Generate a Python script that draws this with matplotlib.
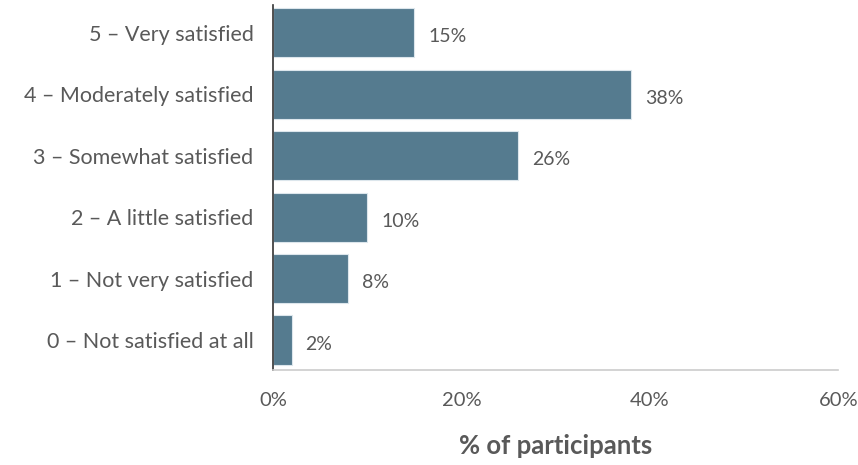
import matplotlib
matplotlib.use("Agg")
import matplotlib.pyplot as plt

categories = [
    "0 – Not satisfied at all",
    "1 – Not very satisfied",
    "2 – A little satisfied",
    "3 – Somewhat satisfied",
    "4 – Moderately satisfied",
    "5 – Very satisfied",
]
percent = [2, 8, 10, 26, 38, 15]
x_ticks = [0, 20, 40, 60]

plt.rcParams["font.family"] = ["Lato", "DejaVu Sans"]
text_color = "#595959"
bar_color = "#557b8f"

fig = plt.figure(figsize=(8.58, 4.65), dpi=100)
ax = fig.add_axes([0.318, 0.204, 0.659, 0.785])

y = list(range(len(categories)))
ax.barh(y, percent, height=0.8, color=bar_color, edgecolor="#dce6ec", linewidth=0.8)

for yi, v in zip(y, percent):
    ax.annotate(f"{v}%", xy=(v, yi), xytext=(10, -3), textcoords="offset points",
                ha="left", va="center", fontsize=14, color=text_color)

ax.set_xlim(0, 60)
ax.set_ylim(-0.49, 5.45)
ax.set_yticks(y)
ax.set_yticklabels(categories, fontsize=15.5, color=text_color)
ax.set_xticks(x_ticks)
ax.set_xticklabels([f"{t}%" for t in x_ticks], fontsize=14.5, color=text_color)
ax.tick_params(axis="both", length=0)
ax.tick_params(axis="y", pad=14)
ax.tick_params(axis="x", pad=16)

for side in ("top", "right"):
    ax.spines[side].set_visible(False)
ax.spines["left"].set_color("#333333")
ax.spines["left"].set_linewidth(1.2)
ax.spines["bottom"].set_color("#cccccc")
ax.spines["bottom"].set_linewidth(1.2)

ax.set_xlabel("% of participants", fontsize=18.5, fontweight="bold",
              color=text_color, labelpad=18)

fig.savefig("out.png", dpi=100)
